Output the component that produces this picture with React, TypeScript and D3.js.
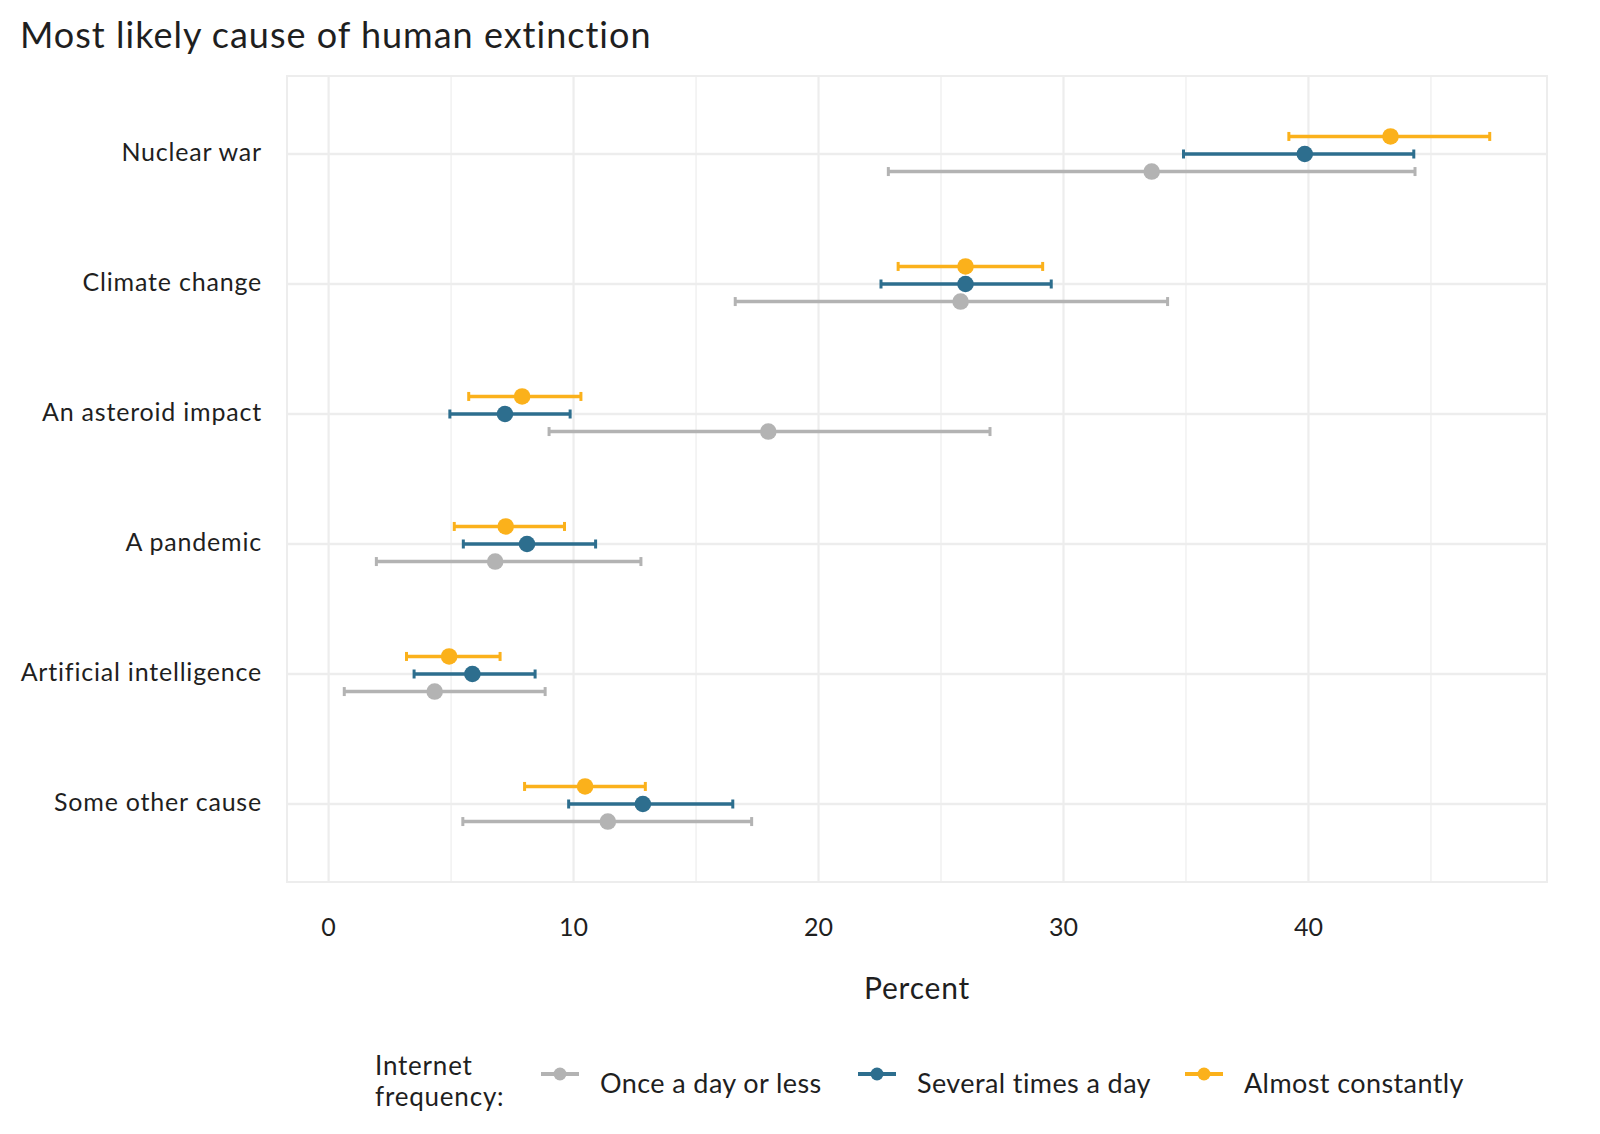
import * as d3 from "d3";

const categories = [
  "Nuclear war",
  "Climate change",
  "An asteroid impact",
  "A pandemic",
  "Artificial intelligence",
  "Some other cause",
];

const seriesNames = ["Once a day or less", "Several times a day", "Almost constantly"];
const seriesColors = ["#B3B3B3", "#2D6E8E", "#FBB11B"];

// point estimates and CI bounds, one array per series, in category order
const onceEst = [33.6, 25.8, 17.95, 6.8, 4.33, 11.4];
const onceLow = [22.85, 16.6, 9.0, 1.95, 0.64, 5.48];
const onceHigh = [44.35, 34.25, 27.0, 12.75, 8.84, 17.27];

const severalEst = [39.85, 26.0, 7.2, 8.1, 5.87, 12.83];
const severalLow = [34.9, 22.55, 4.95, 5.5, 3.49, 9.8];
const severalHigh = [44.3, 29.5, 9.86, 10.9, 8.43, 16.5];

const constantEst = [43.35, 26.0, 7.9, 7.23, 4.92, 10.47];
const constantLow = [39.2, 23.25, 5.72, 5.13, 3.18, 8.0];
const constantHigh = [47.4, 29.15, 10.3, 9.63, 7.0, 12.93];

const seriesEst = [onceEst, severalEst, constantEst];
const seriesLow = [onceLow, severalLow, constantLow];
const seriesHigh = [onceHigh, severalHigh, constantHigh];

const W = 1600;
const H = 1134;
const FONT = "Lato, 'Open Sans', sans-serif";
const TEXT = "#1f1f1f";
const GRID = "#EDEDED";

export default function App() {
  const panel = { left: 287, right: 1547, top: 76, bottom: 882 };

  const allLow = d3.min(seriesLow.flat()) ?? 0;
  const allHigh = d3.max(seriesHigh.flat()) ?? 50;
  const pad = (allHigh - allLow) * 0.05;

  const x = d3
    .scaleLinear()
    .domain([allLow - pad, allHigh + pad])
    .range([panel.left, panel.right]);

  const y = d3
    .scalePoint<string>()
    .domain(categories)
    .range([panel.top, panel.bottom])
    .padding(0.6);

  // gray sits below, orange above
  const dodge = y.step() * 0.135;
  const offsetFor = (s: number) => (1 - s) * dodge;

  const majorTicks = x.ticks(5);
  const minorTicks = x.ticks(10).filter((t) => !majorTicks.includes(t));

  const legendKeys = [560, 877, 1204];
  const legendY = 1074;

  return (
    <svg
      width={W}
      height={H}
      viewBox={`0 0 ${W} ${H}`}
      style={{ position: "absolute", left: 0, top: 0, background: "#fff" }}
      fontFamily={FONT}
    >
      <rect width={W} height={H} fill="#fff" />

      <text x={20} y={48} fontSize={36} fill={TEXT} letterSpacing={1}>
        Most likely cause of human extinction
      </text>

      {/* grid */}
      {minorTicks.map((t) => (
        <line key={`mi${t}`} x1={x(t)} x2={x(t)} y1={panel.top} y2={panel.bottom} stroke={GRID} strokeWidth={1.2} />
      ))}
      {majorTicks.map((t) => (
        <line key={`ma${t}`} x1={x(t)} x2={x(t)} y1={panel.top} y2={panel.bottom} stroke={GRID} strokeWidth={2.2} />
      ))}
      {categories.map((c) => (
        <line key={`h${c}`} x1={panel.left} x2={panel.right} y1={y(c)} y2={y(c)} stroke={GRID} strokeWidth={2.6} />
      ))}
      <rect
        x={panel.left}
        y={panel.top}
        width={panel.right - panel.left}
        height={panel.bottom - panel.top}
        fill="none"
        stroke={GRID}
        strokeWidth={2}
      />

      {/* error bars */}
      {seriesNames.map((name, s) => (
        <g key={`eb${name}`} stroke={seriesColors[s]} strokeWidth={3.5}>
          {categories.map((c, i) => {
            const cy = (y(c) ?? 0) + offsetFor(s);
            const x0 = x(seriesLow[s][i]);
            const x1 = x(seriesHigh[s][i]);
            return (
              <g key={c}>
                <line x1={x0} x2={x1} y1={cy} y2={cy} />
                <line x1={x0} x2={x0} y1={cy - 4.5} y2={cy + 4.5} strokeWidth={3} />
                <line x1={x1} x2={x1} y1={cy - 4.5} y2={cy + 4.5} strokeWidth={3} />
              </g>
            );
          })}
        </g>
      ))}

      {/* points */}
      {seriesNames.map((name, s) => (
        <g key={`pt${name}`} fill={seriesColors[s]}>
          {categories.map((c, i) => (
            <circle key={c} cx={x(seriesEst[s][i])} cy={(y(c) ?? 0) + offsetFor(s)} r={8.3} />
          ))}
        </g>
      ))}

      {/* y axis labels */}
      {categories.map((c) => (
        <text
          key={`yl${c}`}
          x={262}
          y={(y(c) ?? 0) - 3}
          textAnchor="end"
          dominantBaseline="central"
          fontSize={25}
          letterSpacing={0.8}
          fill={TEXT}
        >
          {c}
        </text>
      ))}

      {/* x axis labels */}
      {majorTicks.map((t) => (
        <text
          key={`xl${t}`}
          x={x(t)}
          y={926}
          textAnchor="middle"
          dominantBaseline="central"
          fontSize={25}
          fill={TEXT}
        >
          {t}
        </text>
      ))}
      <text
        x={(panel.left + panel.right) / 2}
        y={987}
        textAnchor="middle"
        dominantBaseline="central"
        fontSize={30}
        letterSpacing={0.8}
        fill={TEXT}
      >
        Percent
      </text>

      {/* legend */}
      <text x={375} fontSize={26} fill={TEXT} letterSpacing={0.8}>
        <tspan x={375} y={1075}>Internet</tspan>
        <tspan x={375} y={1106}>frequency:</tspan>
      </text>
      {seriesNames.map((name, s) => (
        <g key={`lg${name}`}>
          <line
            x1={legendKeys[s] - 19}
            x2={legendKeys[s] + 19}
            y1={legendY}
            y2={legendY}
            stroke={seriesColors[s]}
            strokeWidth={4}
          />
          <circle cx={legendKeys[s]} cy={legendY} r={6.5} fill={seriesColors[s]} />
          <text
            x={legendKeys[s] + 40}
            y={legendY + 8}
            dominantBaseline="central"
            fontSize={27}
            letterSpacing={0.4}
            fill={TEXT}
          >
            {name}
          </text>
        </g>
      ))}
    </svg>
  );
}
